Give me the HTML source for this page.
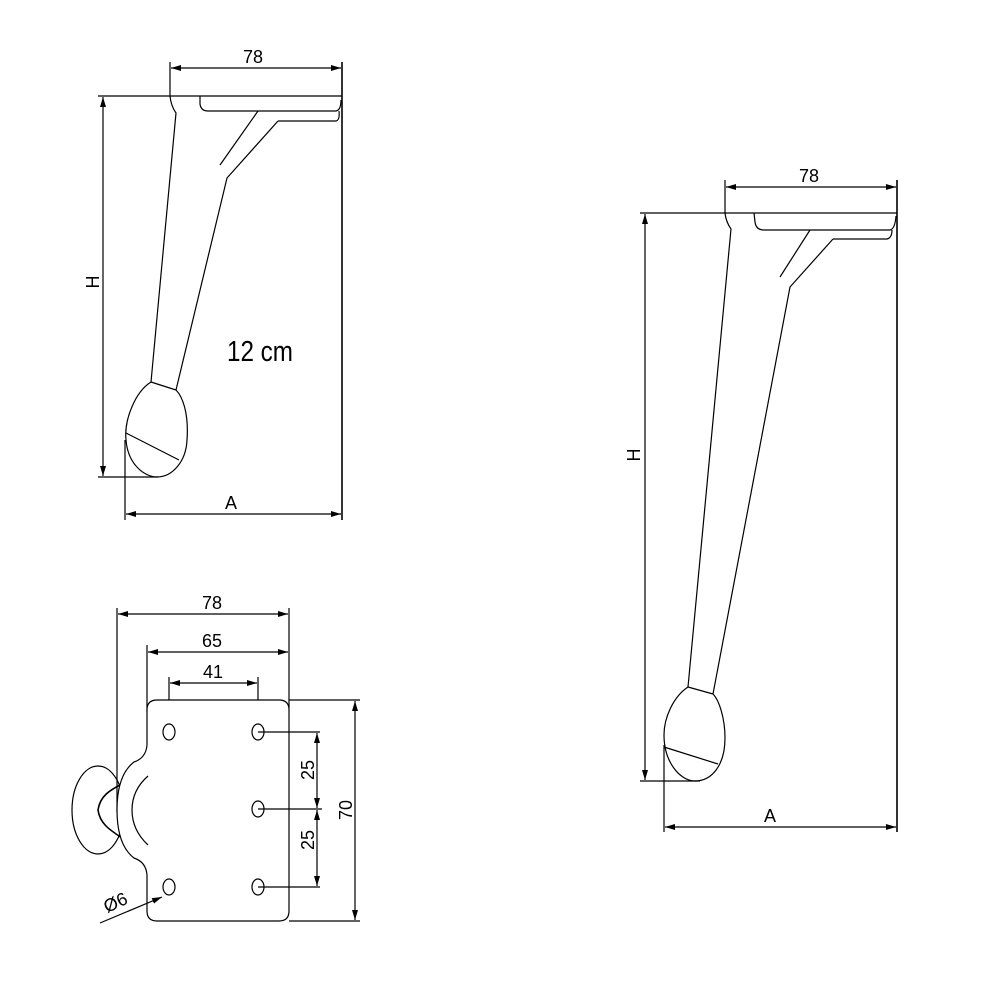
<!DOCTYPE html>
<html><head><meta charset="utf-8"><style>html,body{margin:0;padding:0;background:#fff}svg{display:block}</style></head>
<body>
<svg width="1000" height="1000" viewBox="0 0 1000 1000" xmlns="http://www.w3.org/2000/svg" font-family="Liberation Sans, sans-serif">
<defs>
<marker id="a" viewBox="0 0 10 6" refX="10" refY="3" markerWidth="10" markerHeight="6" orient="auto-start-reverse" markerUnits="userSpaceOnUse"><path d="M0,0L10,3L0,6z" fill="#000"/></marker>
</defs>
<g stroke="#000" fill="none" stroke-width="1.2">
<line x1="170" y1="62" x2="170" y2="97"/>
<line x1="342" y1="62" x2="342" y2="520" stroke-width="1.6"/>
<line x1="171" y1="68" x2="341" y2="68" marker-start="url(#a)" marker-end="url(#a)"/>
<line x1="98" y1="96" x2="342" y2="96"/>
<line x1="103" y1="97" x2="103" y2="476" marker-start="url(#a)" marker-end="url(#a)"/>
<line x1="98" y1="477" x2="158" y2="477"/>
<line x1="125" y1="440" x2="125" y2="520"/>
<line x1="126" y1="514" x2="341" y2="514" marker-start="url(#a)" marker-end="url(#a)"/>
<path d="M170,96 Q171,106 176,113 L151,382"/>
<path d="M200,96 L200,104 Q201,111 208,111 L336,111 Q341,110 341,100"/>
<path d="M258,111 L220,165"/>
<path d="M278,121 L336,121 Q340,120 339,111"/>
<path d="M278,121 L227,178 L176,390"/>
<path d="M151,382 L176,390"/>
<path d="M151,382 C135,392 124,420 126,440 C128,465 145,477 157,477 C172,477 186,462 187,440 C189,412 182,396 176,390"/>
<line x1="126" y1="433" x2="179" y2="460"/>
<line x1="725" y1="180" x2="725" y2="214"/>
<line x1="897" y1="180" x2="897" y2="832" stroke-width="1.6"/>
<line x1="726" y1="187" x2="896" y2="187" marker-start="url(#a)" marker-end="url(#a)"/>
<line x1="640" y1="213" x2="897" y2="213"/>
<line x1="645" y1="214" x2="645" y2="780" marker-start="url(#a)" marker-end="url(#a)"/>
<line x1="640" y1="781" x2="700" y2="781"/>
<line x1="664" y1="745" x2="664" y2="832"/>
<line x1="665" y1="827" x2="896" y2="827" marker-start="url(#a)" marker-end="url(#a)"/>
<path d="M725,213 Q726,222 731,229 L688,687"/>
<path d="M754,213 L755,222 Q756,230 764,230 L890,230 Q895,229 896,216"/>
<path d="M810,230 L780,277"/>
<path d="M833,239 L887,239 Q892,238 892,230"/>
<path d="M833,239 L790,287 L713,694"/>
<path d="M688,687 L713,694"/>
<path d="M688,687 C673,697 664,718 664,735 C664,762 680,781 695,781 C712,781 725,765 725,738 C725,718 719,700 713,694"/>
<line x1="664" y1="747" x2="718" y2="764"/>
<line x1="117" y1="608" x2="117" y2="812"/>
<line x1="289" y1="608" x2="289" y2="710"/>
<line x1="118" y1="614" x2="288" y2="614" marker-start="url(#a)" marker-end="url(#a)"/>
<line x1="147" y1="645" x2="147" y2="712"/>
<line x1="148" y1="652" x2="288" y2="652" marker-start="url(#a)" marker-end="url(#a)"/>
<line x1="169" y1="677" x2="169" y2="732"/>
<line x1="258" y1="677" x2="258" y2="732"/>
<line x1="170" y1="683" x2="257" y2="683" marker-start="url(#a)" marker-end="url(#a)"/>
<ellipse cx="98" cy="810" rx="26" ry="44"/>
<path d="M122,784 C110,790 100,796 98,810 C100,824 110,830 122,838" stroke-width="1.6"/>
<path d="M157,700 L279,700 Q289,700 289,710 L289,911 Q289,921 279,921 L157,921 Q147,921 147,911 L147,875 Q146,862 134,858 Q117,845 117,810 Q117,775 134,762 Q146,758 147,745 L147,710 Q147,700 157,700 Z" fill="#fff"/>
<path d="M148,776 Q132,790 132,810 Q132,830 148,845"/>
<ellipse cx="169" cy="732" rx="6" ry="8"/>
<ellipse cx="258" cy="732" rx="6" ry="8"/>
<ellipse cx="258" cy="809" rx="6" ry="8"/>
<ellipse cx="258" cy="887" rx="6" ry="8"/>
<ellipse cx="169" cy="887" rx="6" ry="8"/>
<line x1="258" y1="732" x2="320" y2="732"/>
<line x1="258" y1="809" x2="322" y2="809"/>
<line x1="258" y1="887" x2="320" y2="887"/>
<line x1="317" y1="733" x2="317" y2="808" marker-start="url(#a)" marker-end="url(#a)"/>
<line x1="317" y1="810" x2="317" y2="886" marker-start="url(#a)" marker-end="url(#a)"/>
<line x1="289" y1="700" x2="360" y2="700"/>
<line x1="289" y1="921" x2="360" y2="921"/>
<line x1="355" y1="701" x2="355" y2="920" marker-start="url(#a)" marker-end="url(#a)"/>
<line x1="100" y1="923" x2="162" y2="897" marker-end="url(#a)"/>
</g>
<g fill="#000" font-size="18" text-anchor="middle">
<text x="253" y="63">78</text>
<text x="809" y="182">78</text>
<text x="231" y="509">A</text>
<text x="770" y="822">A</text>
<text transform="translate(99,282) rotate(-90)">H</text>
<text transform="translate(640,455) rotate(-90)">H</text>
<text x="227" y="361" font-size="29" text-anchor="start" textLength="66" lengthAdjust="spacingAndGlyphs">12 cm</text>
<text x="212" y="609">78</text>
<text x="212" y="647">65</text>
<text x="213" y="678">41</text>
<text transform="translate(314,770) rotate(-90)">25</text>
<text transform="translate(314,840) rotate(-90)">25</text>
<text transform="translate(352,810) rotate(-90)">70</text>
<text transform="translate(118,908) rotate(-25)">Ø6</text>
</g>
</svg>
</body></html>
